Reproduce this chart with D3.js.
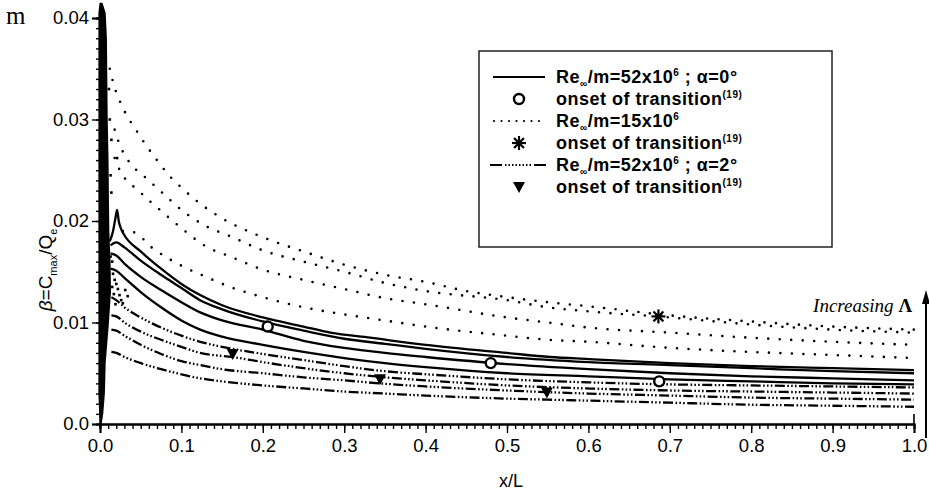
<!DOCTYPE html>
<html><head><meta charset="utf-8">
<script src="https://cdn.jsdelivr.net/npm/d3@7"></script>
<style>
html,body{margin:0;padding:0;background:#fff;}
svg{display:block;font-family:"Liberation Sans",Arial,sans-serif;}
</style></head>
<body><svg id="c" width="929" height="495"></svg>
<script>
// ---------- data ----------
const xTickValues = [0,0.1,0.2,0.3,0.4,0.5,0.6,0.7,0.8,0.9,1.0];
const xTickLabels = ["0.0","0.1","0.2","0.3","0.4","0.5","0.6","0.7","0.8","0.9","1.0"];
const yTickValues = [0,0.01,0.02,0.03,0.04];
const yTickLabels = ["0.0","0.01","0.02","0.03","0.04"];

// Re/m = 52e6, alpha = 0 deg (solid)
const solid1 = [[0.012,0.0180],[0.016,0.0190],[0.019,0.0203],[0.021,0.0211],[0.023,0.0200],[0.026,0.0192],[0.03,0.0186],[0.05,0.0170],[0.075,0.0153],[0.1,0.0138],[0.123,0.0127],[0.15,0.0117],[0.2,0.0105],[0.25,0.0096],[0.283,0.0090],[0.332,0.0085],[0.4,0.0078],[0.5,0.0070],[0.553,0.0066],[0.6,0.0064],[0.7,0.0060],[0.8,0.0057],[0.9,0.0055],[1.0,0.0053]];
const solid2 = [[0.013,0.0176],[0.02,0.0179],[0.03,0.0174],[0.05,0.0161],[0.075,0.0147],[0.1,0.0134],[0.123,0.0122],[0.15,0.0113],[0.2,0.0101],[0.25,0.0092],[0.3,0.0084],[0.35,0.0079],[0.4,0.0074],[0.5,0.0066],[0.6,0.0061],[0.7,0.0058],[0.8,0.0055],[0.9,0.0052],[1.0,0.0050]];
const solid3 = [[0.013,0.0168],[0.02,0.0166],[0.03,0.0158],[0.05,0.0145],[0.075,0.0132],[0.1,0.0120],[0.123,0.0110],[0.15,0.0102],[0.2,0.0093],[0.25,0.0082],[0.3,0.0075],[0.35,0.0070],[0.4,0.0066],[0.5,0.0059],[0.6,0.0054],[0.7,0.0050],[0.8,0.0047],[0.9,0.0045],[1.0,0.0043]];
const solid4 = [[0.013,0.0153],[0.02,0.0151],[0.03,0.0144],[0.05,0.0130],[0.075,0.0115],[0.1,0.0102],[0.123,0.0093],[0.15,0.0086],[0.2,0.0078],[0.25,0.0071],[0.3,0.0065],[0.35,0.0060],[0.4,0.0056],[0.5,0.0050],[0.6,0.0047],[0.7,0.0044],[0.8,0.0042],[0.9,0.0040],[1.0,0.0039]];
const solidOnsetX = [0.206,0.480,0.687];
const solidOnsetY = [0.0096,0.0060,0.0042];

// Re/m = 15e6 (dotted)
const dotted1 = [[0.012,0.0350],[0.016,0.0337],[0.029,0.0310],[0.044,0.0290],[0.052,0.0280],[0.069,0.0261],[0.087,0.0243],[0.1,0.0233],[0.12,0.0219],[0.145,0.0205],[0.2,0.0184],[0.25,0.0170],[0.3,0.0157],[0.35,0.0147],[0.4,0.0140],[0.45,0.0131],[0.5,0.0125],[0.55,0.0120],[0.6,0.0116],[0.7,0.0107],[0.8,0.0101],[0.9,0.0096],[1.0,0.0093]];
const dotted2 = [[0.018,0.0290],[0.022,0.0280],[0.04,0.0254],[0.05,0.0247],[0.075,0.0229],[0.1,0.0211],[0.13,0.0195],[0.16,0.0185],[0.2,0.0171],[0.25,0.0160],[0.3,0.0150],[0.35,0.0139],[0.4,0.0131],[0.5,0.0122],[0.55,0.0115],[0.6,0.0111],[0.7,0.0105],[0.8,0.0098],[0.9,0.0093],[1.0,0.0090]];
const dotted3 = [[0.018,0.0262],[0.022,0.0254],[0.05,0.0228],[0.075,0.0210],[0.1,0.0193],[0.13,0.0175],[0.16,0.0165],[0.2,0.0152],[0.25,0.0142],[0.3,0.0133],[0.35,0.0124],[0.4,0.0118],[0.5,0.0105],[0.55,0.0100],[0.6,0.0095],[0.7,0.0090],[0.8,0.0085],[0.9,0.0081],[1.0,0.0078]];
const dotted4 = [[0.028,0.0190],[0.041,0.0189],[0.065,0.0173],[0.1,0.0156],[0.13,0.0145],[0.16,0.0135],[0.2,0.0125],[0.25,0.0115],[0.3,0.0108],[0.35,0.0102],[0.4,0.0096],[0.5,0.0087],[0.55,0.0083],[0.6,0.0081],[0.7,0.0075],[0.8,0.0071],[0.9,0.0068],[1.0,0.0065]];
const dottedOnsetX = [0.686];
const dottedOnsetY = [0.0106];

// Re/m = 52e6, alpha = 2 deg (dash-dot-dot)
const dashDot1 = [[0.014,0.0125],[0.02,0.0122],[0.03,0.0115],[0.05,0.0105],[0.075,0.0095],[0.1,0.0087],[0.123,0.0081],[0.15,0.0076],[0.2,0.0069],[0.25,0.0063],[0.3,0.0057],[0.35,0.0052],[0.4,0.0049],[0.5,0.0044],[0.6,0.0041],[0.7,0.0039],[0.8,0.0038],[0.9,0.0037],[1.0,0.0036]];
const dashDot2 = [[0.014,0.0107],[0.02,0.0106],[0.03,0.0100],[0.05,0.0091],[0.075,0.0083],[0.1,0.0076],[0.123,0.0070],[0.163,0.0066],[0.2,0.0061],[0.25,0.0055],[0.3,0.0050],[0.35,0.0046],[0.4,0.0043],[0.5,0.0038],[0.6,0.0035],[0.7,0.0033],[0.8,0.0032],[0.9,0.0031],[1.0,0.0030]];
const dashDot3 = [[0.014,0.0093],[0.02,0.0092],[0.03,0.0087],[0.05,0.0078],[0.075,0.0069],[0.1,0.0062],[0.123,0.0058],[0.15,0.0054],[0.2,0.0050],[0.25,0.0046],[0.3,0.0043],[0.344,0.0040],[0.4,0.0037],[0.5,0.0033],[0.6,0.0030],[0.7,0.0028],[0.8,0.0026],[0.9,0.0025],[1.0,0.0024]];
const dashDot4 = [[0.014,0.0071],[0.02,0.0070],[0.03,0.0066],[0.05,0.0060],[0.075,0.0054],[0.1,0.0049],[0.123,0.0045],[0.15,0.0042],[0.2,0.0038],[0.25,0.0035],[0.3,0.0032],[0.35,0.0030],[0.4,0.0028],[0.5,0.0025],[0.55,0.0024],[0.6,0.0023],[0.7,0.0021],[0.8,0.0019],[0.9,0.0018],[1.0,0.0017]];
const dashDotOnsetX = [0.163,0.344,0.549];
const dashDotOnsetY = [0.0069,0.0044,0.0031];

// oscillating leading-edge band (left and right edges as a function of beta)
const bandY     = [0.0,   0.001, 0.003, 0.006, 0.010, 0.013, 0.016, 0.019, 0.022, 0.026, 0.030, 0.034, 0.038, 0.0405, 0.0415];
const bandLeft  = [0.0005,-0.001,-0.002,-0.002,-0.002,-0.002,-0.002,-0.002,-0.002,-0.002,-0.002,-0.002,-0.002,-0.002, -0.0005];
const bandRight = [0.002, 0.004, 0.006, 0.007, 0.011, 0.0135,0.013, 0.0115,0.011, 0.0105,0.0095,0.009, 0.0085,0.007,  0.003];
// scattered points near the leading edge
const scatterX = [0.013,0.015,0.016,0.018,0.020,0.022,0.015,0.017,0.024,0.026,0.019,0.028,0.014,0.021,0.031,0.034,0.012,0.013,0.011,0.014];
const scatterY = [0.0165,0.0160,0.0148,0.0142,0.0138,0.0133,0.0135,0.0128,0.0127,0.0122,0.0118,0.0119,0.0280,0.0262,0.0132,0.0126,0.0300,0.0245,0.0330,0.0228];

// ---------- drawing ----------
const svg = d3.select("#c");
const x = d3.scaleLinear().domain([0,1]).range([100,914]);
const y = d3.scaleLinear().domain([0,0.04]).range([424,18]);
const line = d3.line().x(d=>x(d[0])).y(d=>y(d[1])).curve(d3.curveMonotoneX);

// leading edge band
svg.append("path")
  .datum(bandY.map((v,i)=>[v,bandLeft[i],bandRight[i]]))
  .attr("d", d3.area().y(d=>y(d[0])).x0(d=>x(d[1])).x1(d=>x(d[2])).curve(d3.curveLinear))
  .attr("fill","#000");
svg.selectAll("rect.sc").data(scatterX.map((v,i)=>[v,scatterY[i]])).enter().append("rect")
  .attr("x",d=>x(d[0])-1.3).attr("y",d=>y(d[1])-1.3).attr("width",2.6).attr("height",2.6).attr("fill","#000");

const dotStyle = {w:2.6, dash:"0,11.5", cap:"round"};
const dashDotStyle = {w:2.3, dash:"10,2.5,1.6,2.2,1.6,2.2,1.6,2.5", cap:"butt"};
[dotted1,dotted2,dotted3,dotted4].forEach(s=>{
  svg.append("path").attr("d",line(s)).attr("fill","none").attr("stroke","#000")
    .attr("stroke-width",dotStyle.w).attr("stroke-dasharray",dotStyle.dash).attr("stroke-linecap",dotStyle.cap);
});
[solid1,solid2,solid3,solid4].forEach(s=>{
  svg.append("path").attr("d",line(s)).attr("fill","none").attr("stroke","#000").attr("stroke-width",2.3);
});
[dashDot1,dashDot2,dashDot3,dashDot4].forEach(s=>{
  svg.append("path").attr("d",line(s)).attr("fill","none").attr("stroke","#000")
    .attr("stroke-width",dashDotStyle.w).attr("stroke-dasharray",dashDotStyle.dash);
});

// markers
function circleMark(g,cx,cy){g.append("circle").attr("cx",cx).attr("cy",cy).attr("r",5).attr("fill","#fff").attr("stroke","#000").attr("stroke-width",2.4);}
function starMark(g,cx,cy){
  const r=7;
  for(let k=0;k<4;k++){const a=k*Math.PI/4;
    g.append("line").attr("x1",cx-r*Math.cos(a)).attr("y1",cy-r*Math.sin(a)).attr("x2",cx+r*Math.cos(a)).attr("y2",cy+r*Math.sin(a))
     .attr("stroke","#000").attr("stroke-width",2.2);}
}
function triMark(g,cx,cy){g.append("path").attr("d",`M${cx-6},${cy-5}L${cx+6},${cy-5}L${cx},${cy+6}Z`).attr("fill","#000");}
solidOnsetX.forEach((v,i)=>circleMark(svg,x(v),y(solidOnsetY[i])));
dottedOnsetX.forEach((v,i)=>starMark(svg,x(v),y(dottedOnsetY[i])));
dashDotOnsetX.forEach((v,i)=>triMark(svg,x(v),y(dashDotOnsetY[i])));

// axes
const minorY = d3.range(0,41).map(i=>i*0.001);
const minorX = d3.range(0,101).map(i=>i*0.01);
const gy = svg.append("g").attr("transform","translate(100,0)");
gy.call(d3.axisLeft(y).tickValues(minorY).tickSize(4).tickFormat(""));
const gy2 = svg.append("g").attr("transform","translate(100,0)");
gy2.call(d3.axisLeft(y).tickValues(yTickValues).tickSize(8).tickPadding(3).tickFormat((d,i)=>yTickLabels[i]));
const gx = svg.append("g").attr("transform","translate(0,424)");
gx.call(d3.axisBottom(x).tickValues(minorX).tickSize(5).tickFormat(""));
const gx2 = svg.append("g").attr("transform","translate(0,424)");
gx2.call(d3.axisBottom(x).tickValues(xTickValues).tickSize(9).tickPadding(6).tickFormat((d,i)=>xTickLabels[i]));
svg.selectAll(".domain").attr("stroke","#000").attr("stroke-width",2);
svg.selectAll(".tick line").attr("stroke","#000").attr("stroke-width",1.4);
svg.selectAll(".tick text").attr("fill","#000").style("font-size","18.5px").style("font-family","'Liberation Sans',Arial,sans-serif");
// axis line extension at top and upward tick at right end
svg.append("line").attr("x1",100).attr("x2",100).attr("y1",18).attr("y2",12).attr("stroke","#000").attr("stroke-width",2);
svg.append("line").attr("x1",x(1)).attr("x2",x(1)).attr("y1",424).attr("y2",414).attr("stroke","#000").attr("stroke-width",1.6);

// axis titles
svg.append("text").attr("x",511).attr("y",487).attr("text-anchor","middle").style("font-size","18px").text("x/L");
const yt = svg.append("text").attr("transform","translate(52,270) rotate(-90)").attr("text-anchor","middle").style("font-size","19px");
yt.append("tspan").style("font-style","italic").text("β");
yt.append("tspan").text("=C");
yt.append("tspan").attr("dy",5).style("font-size","11px").text("max");
yt.append("tspan").attr("dy",-5).text("/Q");
yt.append("tspan").attr("dy",5).style("font-size","11px").text("e");

// corner letter
svg.append("text").attr("x",6).attr("y",24).style("font-family","'Liberation Serif','DejaVu Serif',serif").style("font-size","25px").text("m");

// legend
const lg = svg.append("g");
lg.append("rect").attr("x",479).attr("y",51).attr("width",353).attr("height",196).attr("fill","#fff").attr("stroke","#222").attr("stroke-width",1.5);
const rows=[77,99,121,143,165,187];
const tx=556;
function reText(t,rate,alpha){
  t.append("tspan").text("Re");
  t.append("tspan").attr("dy",4).style("font-size","10px").text("∞");
  t.append("tspan").attr("dy",-4).text("/m="+rate+"x10");
  t.append("tspan").attr("dy",-7).style("font-size","10px").text("6");
  t.append("tspan").attr("dy",7).text(alpha===null?"":" ; α="+alpha+"°");
}
function onsetText(t){
  t.append("tspan").text("onset of transition");
  t.append("tspan").attr("dy",-7).style("font-size","10px").text("(19)");
}
function legText(yy){return lg.append("text").attr("x",tx).attr("y",yy+6).style("font-size","18px").style("font-weight","bold").style("letter-spacing","0.5px");}
lg.append("line").attr("x1",493).attr("x2",545).attr("y1",rows[0]).attr("y2",rows[0]).attr("stroke","#000").attr("stroke-width",2);
reText(legText(rows[0]),"52","0");
circleMark(lg,519,rows[1]); onsetText(legText(rows[1]));
lg.append("line").attr("x1",494).attr("x2",545).attr("y1",rows[2]).attr("y2",rows[2]).attr("stroke","#000").attr("stroke-width",2.2).attr("stroke-dasharray","0,7.5").attr("stroke-linecap","round");
reText(legText(rows[2]),"15",null);
starMark(lg,519,rows[3]); onsetText(legText(rows[3]));
lg.append("line").attr("x1",490).attr("x2",546).attr("y1",rows[4]).attr("y2",rows[4]).attr("stroke","#000").attr("stroke-width",2).attr("stroke-dasharray","12,3,1.5,2,1.5,2,1.5,2,1.5,2,1.5,2,1.5,2,1.5,2,1.5,3,12");
reText(legText(rows[4]),"52","2");
triMark(lg,519,rows[5]); onsetText(legText(rows[5]));

// Increasing Lambda annotation
const ia = svg.append("text").attr("x",912).attr("y",312).attr("text-anchor","end").style("font-family","'Liberation Serif','DejaVu Serif',serif").style("font-size","19px");
ia.append("tspan").style("font-style","italic").text("Increasing ");
ia.append("tspan").style("font-weight","bold").text("Λ");
svg.append("line").attr("x1",926).attr("x2",926).attr("y1",438).attr("y2",298).attr("stroke","#000").attr("stroke-width",2);
svg.append("path").attr("d","M922,304L926,290L930,304Z").attr("fill","#000");
</script></body></html>
